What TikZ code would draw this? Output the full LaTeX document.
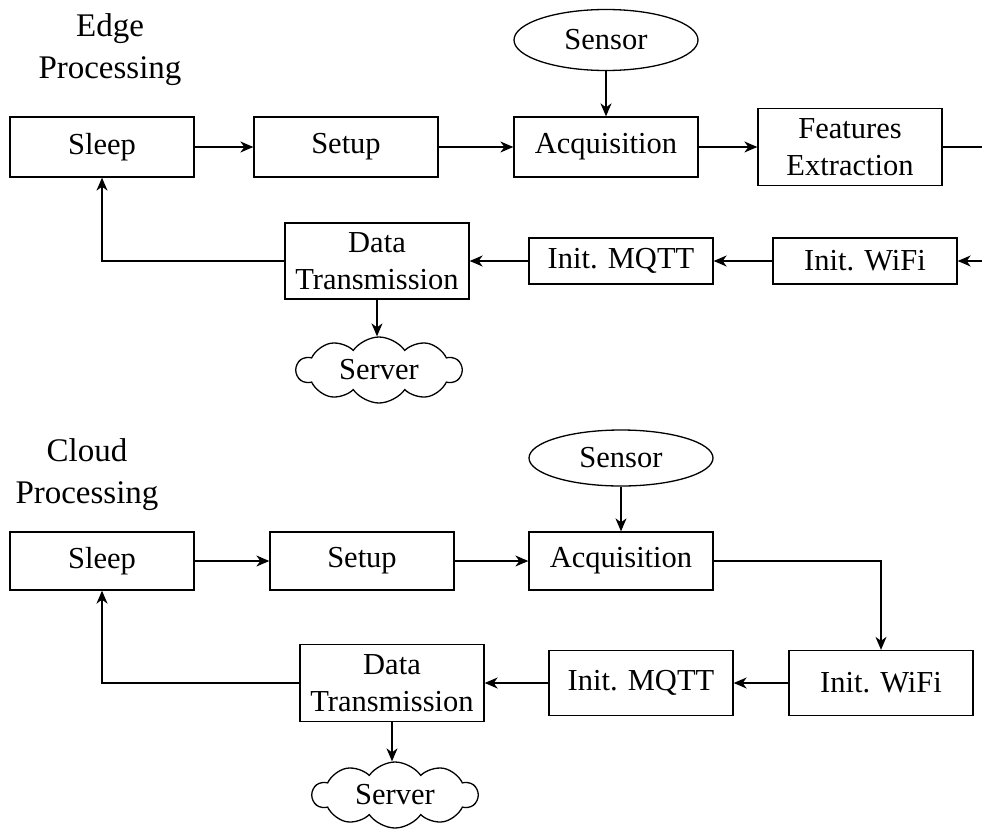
\documentclass[tikz,border=0pt]{standalone}
\usepackage{fontspec}
\setmainfont{Liberation Serif}
\usetikzlibrary{shapes.geometric,shapes.symbols,arrows.meta}
\begin{document}
\begin{tikzpicture}[x=1pt,y=-1pt,
  line width=1.3pt,
  every node/.style={font=\fontsize{30.5}{37}\selectfont, inner sep=0pt},
  box/.style={draw, rectangle, minimum width=184pt, align=center},
  sens/.style={draw, ellipse, minimum width=184pt},
  srv/.style={draw, cloud, cloud puffs=10, cloud puff arc=110, cloud ignores aspect, minimum width=165pt, minimum height=66pt},
  ttl/.style={align=center, font=\fontsize{33}{42}\selectfont},
  arr/.style={-{Stealth[length=13pt,width=11pt,inset=4pt]}}]
\useasboundingbox (0,0) rectangle (982,830);
% ---------- Edge processing ----------
\node[ttl] (t1) at (110,50) {Edge\\Processing};
\node[box, minimum height=60pt] (sl1) at (102,147) {Sleep};
\node[box, minimum height=60pt] (se1) at (346,147) {Setup};
\node[box, minimum height=60pt] (ac1) at (606,147) {Acquisition};
\node[box, minimum height=77pt] (fe1) at (850,147) {Features\\Extraction};
\node[sens, minimum height=61pt] (sn1) at (606,40) {Sensor};
\node[box, minimum height=46pt] (wi1) at (865,261) {Init. WiFi};
\node[box, minimum height=46pt] (mq1) at (621,261) {Init. MQTT};
\node[box, minimum height=76pt] (dt1) at (377,261) {Data\\Transmission};
\node[srv] (sv1) at (379,370) {Server};
\coordinate (fo1) at (982,147);
\coordinate (wo1) at (982,261);
\draw[arr] (sl1) -- (se1);
\draw[arr] (se1) -- (ac1);
\draw[arr] (ac1) -- (fe1);
\draw[arr] (sn1) -- (ac1);
\draw (fe1) -- (fo1);
\draw[arr] (wo1) -- (wi1);
\draw[arr] (wi1) -- (mq1);
\draw[arr] (mq1) -- (dt1);
\draw[arr] (dt1.west) -| (sl1.south);
\draw[arr] (dt1.south) -- (dt1.south |- sv1.north);
% ---------- Cloud processing ----------
\node[ttl] (t2) at (87,475) {Cloud\\Processing};
\node[box, minimum height=58pt] (sl2) at (102,561) {Sleep};
\node[box, minimum height=58pt] (se2) at (362,561) {Setup};
\node[box, minimum height=58pt] (ac2) at (621,561) {Acquisition};
\node[sens, minimum height=56pt] (sn2) at (621,458) {Sensor};
\node[box, minimum height=65pt] (wi2) at (881,683) {Init. WiFi};
\node[box, minimum height=65pt] (mq2) at (641,683) {Init. MQTT};
\node[box, minimum height=77pt] (dt2) at (392,683) {Data\\Transmission};
\node[srv] (sv2) at (395,795) {Server};
\draw[arr] (sl2) -- (se2);
\draw[arr] (se2) -- (ac2);
\draw[arr] (sn2) -- (ac2);
\draw[arr] (ac2.east) -| (wi2.north);
\draw[arr] (wi2) -- (mq2);
\draw[arr] (mq2) -- (dt2);
\draw[arr] (dt2.west) -| (sl2.south);
\draw[arr] (dt2.south) -- (dt2.south |- sv2.north);
\end{tikzpicture}
\end{document}
